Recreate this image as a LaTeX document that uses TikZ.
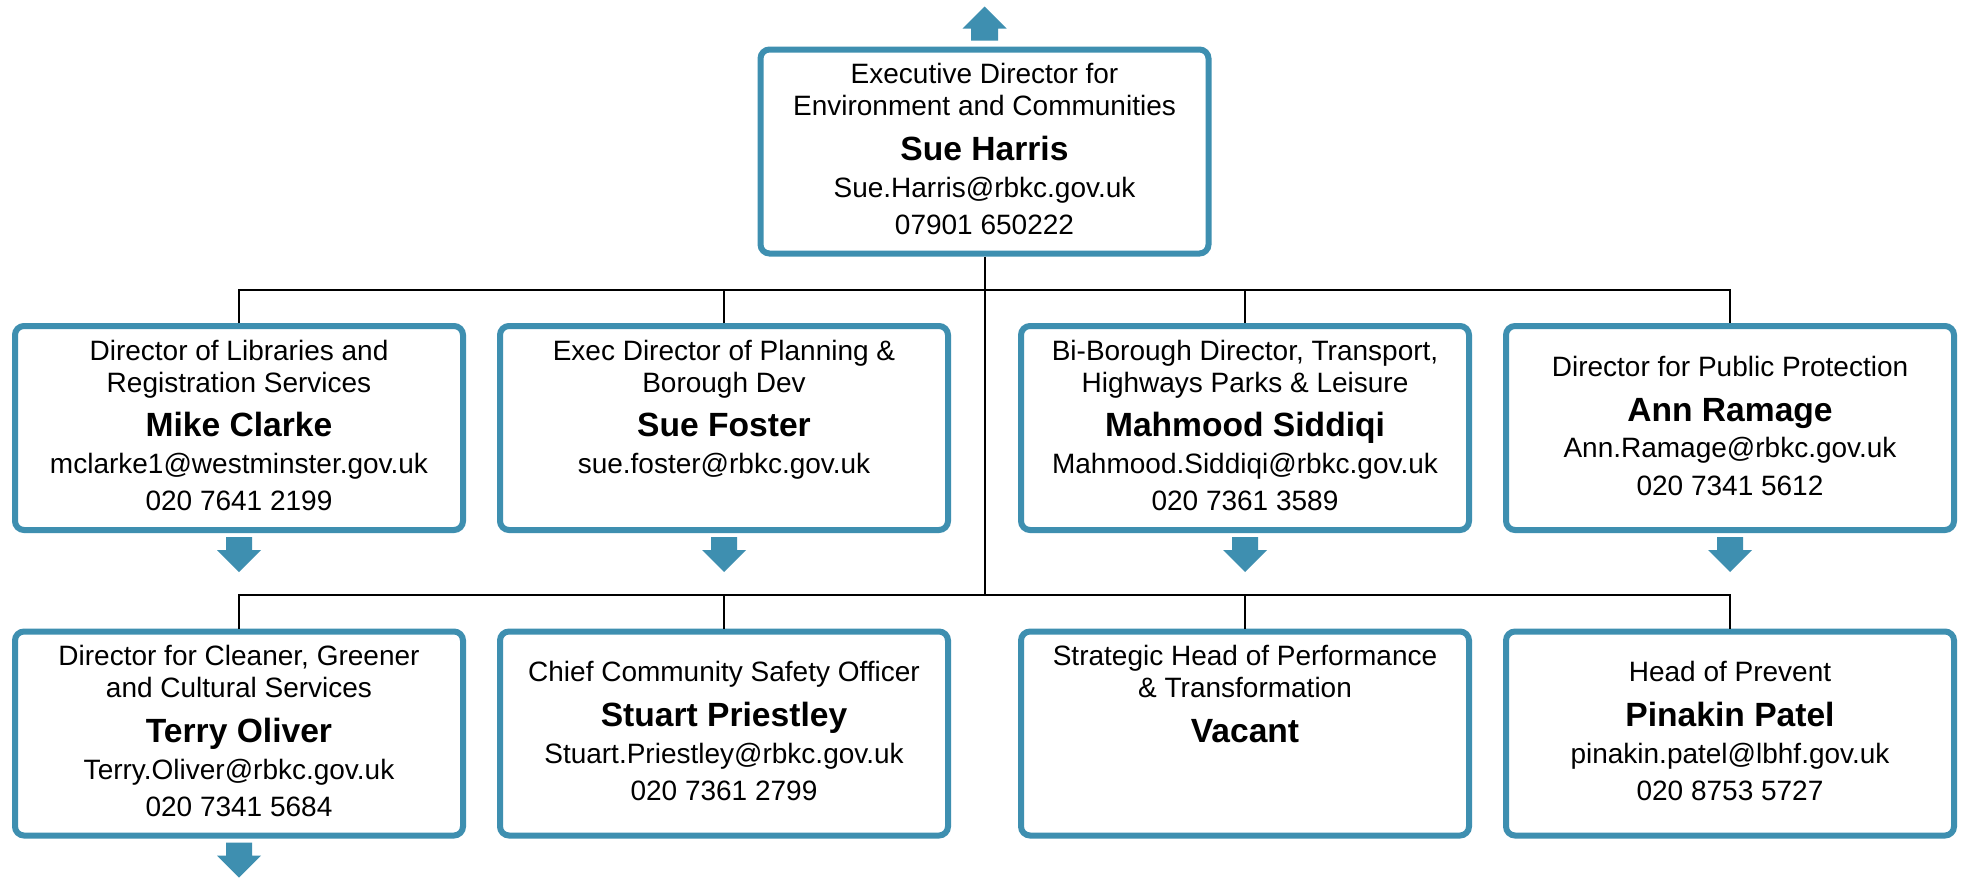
\documentclass[tikz,border=0pt]{standalone}
\usepackage{fontspec}
\setmainfont{Liberation Sans}
\usetikzlibrary{calc}
\definecolor{boxblue}{RGB}{62,143,176}
\newcommand{\orgname}[1]{{\fontsize{33.6}{31.7}\selectfont\bfseries #1}}
\newcommand{\orgdstrut}{\rule[-5pt]{0pt}{5pt}}
\newcommand{\orgDownArrow}[1]{%
  \fill[boxblue] ($(#1)+(-13,4)$) -- ($(#1)+(13,4)$) -- ($(#1)+(13,17)$) -- ($(#1)+(22,17)$)
    -- ($(#1)+(0,39)$) -- ($(#1)+(-22,17)$) -- ($(#1)+(-13,17)$) -- cycle;}
\newcommand{\orgUpArrow}[1]{%
  \fill[boxblue] ($(#1)+(-13.5,-6)$) -- ($(#1)+(13.5,-6)$) -- ($(#1)+(13.5,-18)$) -- ($(#1)+(22,-18)$)
    -- ($(#1)+(0,-40)$) -- ($(#1)+(-22,-18)$) -- ($(#1)+(-13.5,-18)$) -- cycle;}
\tikzset{
  orgbox/.style={draw=boxblue, line width=6pt, rounded corners=9pt, fill=white,
    minimum width=448pt, minimum height=204pt, inner sep=0pt, align=center,
    font=\fontsize{28}{31.7}\selectfont},
  conn/.style={draw=black, line width=2pt}
}
\begin{document}
\begin{tikzpicture}[x=1pt,y=-1pt]
\path[fill=white, use as bounding box] (0,0) rectangle (1965,878);

% top
\node[orgbox] (top) at (984.5,151.5) {Executive Director for\\Environment and Communities\\[13pt]\orgname{Sue Harris}\\[5pt]Sue.Harris@rbkc.gov.uk\\[5.6pt]07901 650222\orgdstrut};

% row 1
\node[orgbox] (b1) at (239,428) {Director of Libraries and\\Registration Services\\[13pt]\orgname{Mike Clarke}\\[5pt]mclarke1@westminster.gov.uk\\[5.6pt]020 7641 2199\orgdstrut};
\node[orgbox] (b2) at (724,428) {Exec Director of Planning \&\\Borough Dev\\[13pt]\orgname{Sue Foster}\\[5pt]sue.foster@rbkc.gov.uk\\[5.6pt]\mbox{}\orgdstrut};
\node[orgbox] (b3) at (1245,428) {Bi-Borough Director, Transport,\\Highways Parks \& Leisure\\[13pt]\orgname{Mahmood Siddiqi}\\[5pt]Mahmood.Siddiqi@rbkc.gov.uk\\[5.6pt]020 7361 3589\orgdstrut};
\node[orgbox] (b4) at (1730,428) {Director for Public Protection\\[13pt]\orgname{Ann Ramage}\\[5pt]Ann.Ramage@rbkc.gov.uk\\[5.6pt]020 7341 5612\orgdstrut};

% row 2
\node[orgbox] (c1) at (239,733.5) {Director for Cleaner, Greener\\and Cultural Services\\[13pt]\orgname{Terry Oliver}\\[5pt]Terry.Oliver@rbkc.gov.uk\\[5.6pt]020 7341 5684\orgdstrut};
\node[orgbox] (c2) at (724,733.5) {Chief Community Safety Officer\\[13pt]\orgname{Stuart Priestley}\\[5pt]Stuart.Priestley@rbkc.gov.uk\\[5.6pt]020 7361 2799\orgdstrut};
\node[orgbox] (c3) at (1245,733.5) {Strategic Head of Performance\\\& Transformation\\[13pt]\orgname{Vacant}\\[5pt]\mbox{}\\[5.6pt]\mbox{}\orgdstrut};
\node[orgbox] (c4) at (1730,733.5) {Head of Prevent\\[13pt]\orgname{Pinakin Patel}\\[5pt]pinakin.patel@lbhf.gov.uk\\[5.6pt]020 8753 5727\orgdstrut};

% connectors
\coordinate (bus1) at (984.5,290);
\coordinate (bus2) at (984.5,595);
\draw[conn] (top.south) -- (bus2);
\draw[conn] (b1.north) |- (bus1) -| (b4.north);
\draw[conn] (b2.north) -- (b2.north |- bus1);
\draw[conn] (b3.north) -- (b3.north |- bus1);
\draw[conn] (c1.north) |- (bus2) -| (c4.north);
\draw[conn] (c2.north) -- (c2.north |- bus2);
\draw[conn] (c3.north) -- (c3.north |- bus2);

% block arrows
\orgUpArrow{top.north}
\orgDownArrow{b1.south}
\orgDownArrow{b2.south}
\orgDownArrow{b3.south}
\orgDownArrow{b4.south}
\orgDownArrow{c1.south}
\end{tikzpicture}
\end{document}
